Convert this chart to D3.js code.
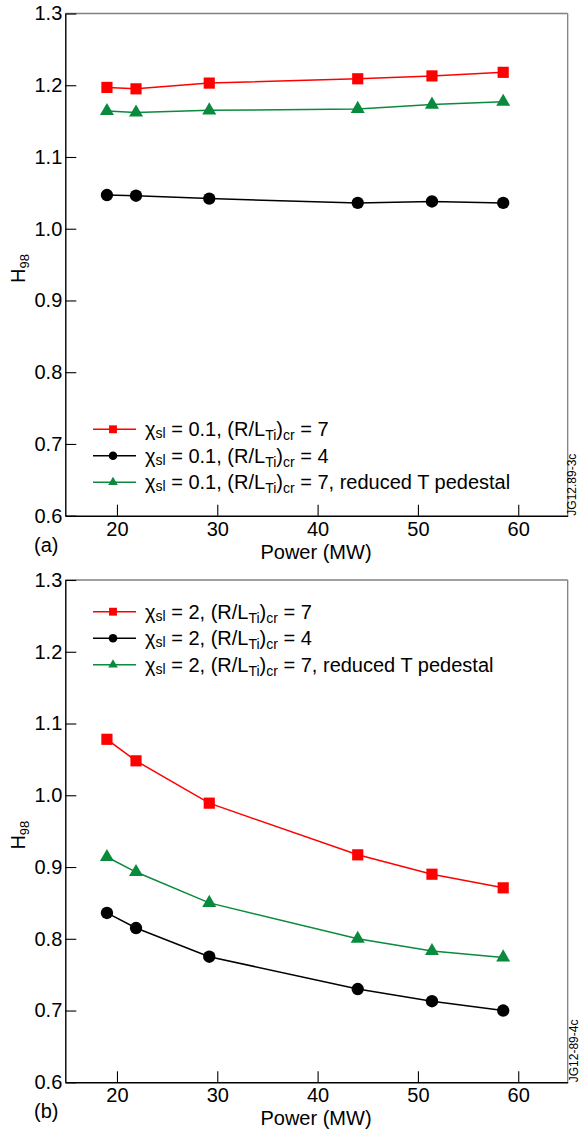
<!DOCTYPE html>
<html><head><meta charset="utf-8">
<script src="https://cdn.jsdelivr.net/npm/d3@7/dist/d3.min.js"></script>
<style>
html,body{margin:0;padding:0;background:#fff;}
svg{display:block;font-family:"Liberation Sans",Arial,Helvetica,sans-serif;}
</style></head>
<body>
<svg id="chart" width="580" height="1131"></svg>
<script>
// ---- data ----
const power = [19, 21.9, 29.2, 44, 51.4, 58.5];
const xTicks = [20, 30, 40, 50, 60];
const yTicks = [0.6, 0.7, 0.8, 0.9, 1.0, 1.1, 1.2, 1.3];
const yTickLabels = ["0.6", "0.7", "0.8", "0.9", "1.0", "1.1", "1.2", "1.3"];

const aRed   = [1.197, 1.195, 1.203, 1.209, 1.213, 1.218];
const aBlack = [1.047, 1.046, 1.042, 1.036, 1.038, 1.036];
const aGreen = [1.164, 1.162, 1.165, 1.167, 1.173, 1.177];

const bRed   = [1.078, 1.048, 0.989, 0.917, 0.890, 0.871];
const bBlack = [0.836, 0.815, 0.775, 0.730, 0.713, 0.700];
const bGreen = [0.914, 0.893, 0.850, 0.800, 0.783, 0.774];

const aChi = "0.1";
const bChi = "2";
const seriesR = ["7", "4", "7"];
const seriesExtra = ["", "", ", reduced T pedestal"];
const panelTags = ["(a)", "(b)"];
const codes = ["JG12.89-3c", "JG12-89-4c"];
const xTitle = "Power (MW)";

// ---- layout ----
const svg = d3.select("#chart");
const left = 65.3, right = 567.7;
const colors = ["#ff0000", "#000000", "#0a8a3c"];
const symbols = [d3.symbolSquare, d3.symbolCircle, d3.symbolTriangle];
const symSize = [125, 120, 85];
const legSize = [62, 58, 40];
const FS = 20;

const panels = [
  {top: 13.5, bottom: 515.7, series: [aRed, aBlack, aGreen], chi: aChi, legY: 415.8, tag: panelTags[0], code: codes[0], codeX: 576},
  {top: 580, bottom: 1082.3, series: [bRed, bBlack, bGreen], chi: bChi, legY: 31.7, tag: panelTags[1], code: codes[1], codeX: 578}
];

const x = d3.scaleLinear().domain([14.85, 64.93]).range([left, right]);

panels.forEach((p) => {
  const y = d3.scaleLinear().domain([0.6, 1.3]).range([p.bottom, p.top]);
  const g = svg.append("g");

  // frame: top & right gray
  g.append("line").attr("x1", left).attr("x2", right).attr("y1", p.top).attr("y2", p.top)
    .attr("stroke", "#808080").attr("stroke-width", 1.3);
  g.append("line").attr("x1", right).attr("x2", right).attr("y1", p.top).attr("y2", p.bottom)
    .attr("stroke", "#808080").attr("stroke-width", 1.3);

  // x axis
  const xa = g.append("g").attr("transform", `translate(0,${p.bottom})`)
    .call(d3.axisBottom(x).tickValues(xTicks).tickSizeInner(-11).tickSizeOuter(0).tickPadding(20)
      .tickFormat(d3.format("d")));
  xa.select(".domain").attr("stroke", "#000").attr("stroke-width", 1.4);
  xa.selectAll(".tick line").attr("stroke", "#000").attr("stroke-width", 1.1);
  xa.selectAll(".tick text").attr("font-size", FS).attr("fill", "#000")
    .attr("font-family", "Liberation Sans, Arial, sans-serif").attr("dy", "0.71em").attr("y", 6);

  // y axis
  const ya = g.append("g").attr("transform", `translate(${left},0)`)
    .call(d3.axisLeft(y).tickValues(yTicks).tickSizeInner(-11).tickSizeOuter(0).tickPadding(3)
      .tickFormat((d, i) => yTickLabels[i]));
  ya.select(".domain").attr("stroke", "#000").attr("stroke-width", 1.4);
  ya.selectAll(".tick line").attr("stroke", "#000").attr("stroke-width", 1.1);
  ya.selectAll(".tick text").attr("font-size", FS).attr("fill", "#000")
    .attr("font-family", "Liberation Sans, Arial, sans-serif").attr("x", -3);

  // y title H98
  const yt = g.append("text")
    .attr("transform", `translate(25,${(p.top + p.bottom) / 2 + 4}) rotate(-90)`)
    .attr("text-anchor", "middle").attr("font-size", FS).attr("fill", "#000");
  yt.append("tspan").text("H");
  yt.append("tspan").attr("font-size", 13).attr("dy", 4).text("98");

  // x title
  g.append("text").attr("x", (left + right) / 2 - 0.5).attr("y", p.bottom + 43)
    .attr("text-anchor", "middle").attr("font-size", FS).attr("fill", "#000").text(xTitle);
  // tag
  g.append("text").attr("x", 34).attr("y", p.bottom + 36)
    .attr("font-size", FS).attr("fill", "#000").text(p.tag);
  // code
  g.append("text").attr("transform", `translate(${p.codeX},${p.bottom}) rotate(-90)`)
    .attr("font-size", 12).attr("fill", "#000").text(p.code);

  // series
  const line = d3.line().x((d, i) => x(power[i])).y(d => y(d));
  p.series.forEach((vals, si) => {
    g.append("path").datum(vals).attr("d", line).attr("fill", "none")
      .attr("stroke", colors[si]).attr("stroke-width", 1.5);
    g.selectAll(null).data(vals).enter().append("path")
      .attr("transform", (d, i) => `translate(${x(power[i])},${y(d)})`)
      .attr("d", d3.symbol().type(symbols[si]).size(symSize[si])())
      .attr("fill", colors[si]);
  });

  // legend
  p.series.forEach((vals, si) => {
    const ly = p.top + p.legY + si * 26.5;
    g.append("line").attr("x1", 93).attr("x2", 136).attr("y1", ly).attr("y2", ly)
      .attr("stroke", colors[si]).attr("stroke-width", 1.4);
    g.append("path").attr("transform", `translate(113,${ly})`)
      .attr("d", d3.symbol().type(symbols[si]).size(legSize[si])()).attr("fill", colors[si]);
    const t = g.append("text").attr("x", 145).attr("y", ly + 7).attr("font-size", FS).attr("fill", "#000");
    t.append("tspan").text("χ");
    t.append("tspan").attr("font-size", 14).attr("dy", 2).text("sl");
    t.append("tspan").attr("dy", -2).text(` = ${p.chi}, (R/L`);
    t.append("tspan").attr("font-size", 14).attr("dy", 4).text("Ti");
    t.append("tspan").attr("dy", -4).text(")");
    t.append("tspan").attr("font-size", 14).attr("dy", 4).text("cr");
    t.append("tspan").attr("dy", -4).text(` = ${seriesR[si]}${seriesExtra[si]}`);
  });
});
</script>
</body></html>
